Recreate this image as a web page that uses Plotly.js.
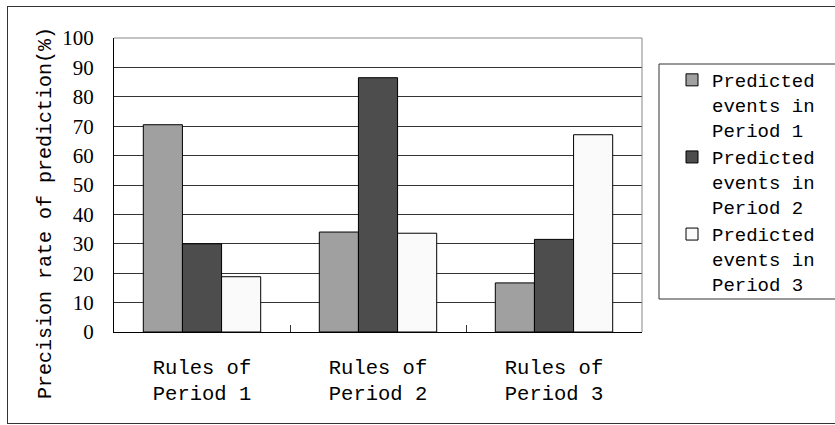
<!DOCTYPE html>
<html>
<head>
<meta charset="utf-8">
<script src="https://cdn.plot.ly/plotly-3.0.1.min.js"></script>
<style>
  html, body { margin: 0; padding: 0; background: #fff; }
  #wrap { position: relative; width: 835px; height: 425px; overflow: hidden; }
  #chart { width: 835px; height: 425px; }
  #frame { position: absolute; left: 7px; top: 6px; width: 850px; height: 418px;
           border: 1px solid #333; pointer-events: none; box-sizing: border-box; }
</style>
</head>
<body>
<div id="wrap">
  <div id="chart"></div>
  <div id="frame"></div>
</div>
<script>
const categories = ["Rules of<br>Period 1", "Rules of<br>Period 2", "Rules of<br>Period 3"];
const seriesNames = ["Predicted<br>events in<br>Period 1", "Predicted<br>events in<br>Period 2", "Predicted<br>events in<br>Period 3"];
const period1Values = [70.5, 34.0, 16.7];
const period2Values = [30.0, 86.5, 31.5];
const period3Values = [18.8, 33.6, 67.1];
const seriesColors = ["#a0a0a0", "#4d4d4d", "#fafafa"];
const yTickVals = [0, 10, 20, 30, 40, 50, 60, 70, 80, 90, 100];

const monoFont = "'Liberation Mono', 'DejaVu Sans Mono', monospace";
const serifFont = "'Liberation Serif', 'DejaVu Serif', serif";

const allValues = [period1Values, period2Values, period3Values];
const traces = allValues.map((vals, i) => ({
  type: "bar",
  x: categories,
  y: vals,
  name: seriesNames[i],
  marker: { color: seriesColors[i], line: { color: "#000", width: 1 } },
  hoverinfo: "skip"
}));

const L = 114, R = 642, T = 38, B = 332;
const W = R - L, H = B - T;
const px = v => (v - L) / W;
const py = v => (B - v) / H;

const layout = {
  width: 835, height: 425,
  margin: { l: L, r: 835 - R, t: T, b: 425 - B, pad: 0 },
  paper_bgcolor: "#fff",
  plot_bgcolor: "#fff",
  barmode: "group",
  bargap: 0.333,
  bargroupgap: 0,
  showlegend: true,
  legend: {
    x: px(672), xanchor: "left",
    y: py(61), yanchor: "top",
    bgcolor: "rgba(0,0,0,0)",
    borderwidth: 0,
    valign: "top",
    font: { family: monoFont, size: 19, color: "#000" },
    itemclick: false, itemdoubleclick: false
  },
  xaxis: {
    type: "category",
    tickson: "boundaries",
    ticks: "inside",
    ticklen: 7,
    tickcolor: "#333",
    showline: true, linecolor: "#000", linewidth: 1,
    showgrid: false,
    ticklabelstandoff: 16,
    tickfont: { family: monoFont, size: 20.5, color: "#000" },
    fixedrange: true
  },
  yaxis: {
    range: [0, 100],
    tickvals: yTickVals,
    ticktext: yTickVals.map(String),
    showline: true, linecolor: "#000", linewidth: 1,
    showgrid: true, gridcolor: "#333", gridwidth: 1,
    zeroline: false,
    ticks: "",
    ticklabelstandoff: 15,
    tickfont: { family: serifFont, size: 21, color: "#000" },
    fixedrange: true
  },
  shapes: [
    { type: "path", xref: "paper", yref: "paper", layer: "above",
      path: "M0,1 L1,1 L1,0", line: { color: "#888", width: 1 } },
    { type: "rect", xref: "paper", yref: "paper", layer: "above",
      x0: px(659), x1: px(860), y0: py(299), y1: py(64),
      line: { color: "#333", width: 1 }, fillcolor: "rgba(0,0,0,0)" }
  ],
  annotations: [
    { xref: "paper", yref: "paper", x: px(45), y: py(213),
      text: "Precision rate of prediction(%)", textangle: -90,
      showarrow: false, xanchor: "center", yanchor: "middle",
      font: { family: monoFont, size: 20, color: "#000" } }
  ]
};

Plotly.newPlot("chart", traces, layout, { displayModeBar: false, staticPlot: true });
</script>
</body>
</html>
